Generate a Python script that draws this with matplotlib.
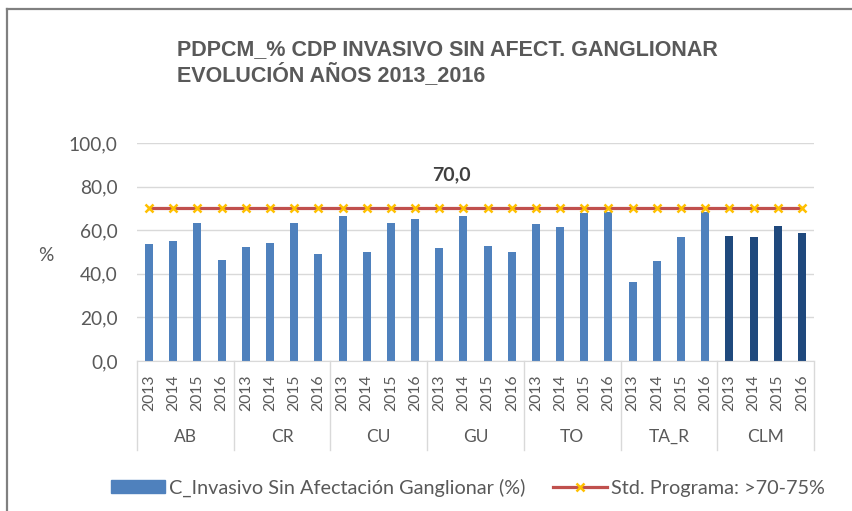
import matplotlib
matplotlib.use("Agg")
import matplotlib.pyplot as plt
from matplotlib.lines import Line2D
import numpy as np

# values
groups = ['AB', 'CR', 'CU', 'GU', 'TO', 'TA_R', 'CLM']
years = ['2013', '2014', '2015', '2016']
values = {
    'AB':   [53.5, 54.9, 63.2, 46.5],
    'CR':   [52.2, 54.3, 63.2, 49.0],
    'CU':   [66.5, 49.9, 63.2, 65.3],
    'GU':   [51.7, 66.5, 52.6, 49.9],
    'TO':   [63.0, 61.5, 67.9, 68.3],
    'TA_R': [36.2, 46.1, 56.8, 68.3],
    'CLM':  [57.2, 56.8, 61.8, 58.6],
}
std_value = 70.0

title = "PDPCM_% CDP INVASIVO SIN AFECT. GANGLIONAR\nEVOLUCIÓN AÑOS 2013_2016"
bar_label = "C_Invasivo Sin Afectación Ganglionar (%)"
std_label = "Std. Programa: >70-75%"

grey_txt = '#595959'
grid_col = '#D9D9D9'

bar_vals = [v for g in groups for v in values[g]]
bar_cols = ['#1F497D' if g == 'CLM' else '#4F81BD' for g in groups for _ in years]
x = np.arange(len(bar_vals))
n_y = len(years)

fig = plt.figure(figsize=(8.53, 5.11), dpi=100)
ax = fig.add_axes([137 / 853, 1 - 361 / 511, 677 / 853, 218 / 511])

bars = ax.bar(x, bar_vals, width=0.33, color=bar_cols, zorder=2, label=bar_label)
line, = ax.plot(x, [std_value] * len(x), color='#C0504D', lw=2.3, marker='x',
                markersize=6, markeredgewidth=1.8, markeredgecolor='#FFC000',
                zorder=3, label=std_label)

ax.text(12.5, 85.3, f"{std_value:.1f}".replace('.', ','), ha='center', va='center',
        fontsize=14, fontweight='bold', family='Lato', color='#404040')

ax.set_xlim(-0.5, len(x) - 0.5)
ax.set_ylim(0, 100)
ax.set_yticks(np.arange(0, 101, 20))
ax.set_yticklabels([f"{t:.1f}".replace('.', ',') for t in np.arange(0, 101, 20)],
                   family='Lato', fontsize=13.8, color=grey_txt)
ax.yaxis.grid(True, color=grid_col, lw=1)
ax.set_axisbelow(True)
for s in ['top', 'right', 'left']:
    ax.spines[s].set_visible(False)
ax.spines['bottom'].set_color(grid_col)
ax.tick_params(axis='y', length=0, pad=14)

ax.set_xticks(x)
ax.set_xticklabels(years * len(groups), rotation=90, family='Lato', fontsize=11.3,
                   color=grey_txt)
ax.tick_params(axis='x', length=0, pad=10)

trans = ax.get_xaxis_transform()
for i, g in enumerate(groups):
    ax.text(i * n_y + (n_y - 1) / 2, -0.349, g, transform=trans, ha='center',
            va='center', family='Lato', fontsize=12.5, color=grey_txt)
for i in range(len(groups) + 1):
    ax.plot([i * n_y - 0.5] * 2, [0, -0.408], transform=trans, color=grid_col,
            lw=1, clip_on=False)

ax.text(-0.134, 0.486, '%', transform=ax.transAxes, ha='center', va='center',
        family='Lato', fontsize=13.8, color=grey_txt)

fig.text(177 / 853, 1 - 39 / 511, title, ha='left', va='top', family='Liberation Sans',
         fontsize=15.5, fontweight='bold', color=grey_txt, linespacing=1.15)

leg = fig.legend(handles=[bars.patches[0], line], labels=[bar_label, std_label],
                 loc='center', bbox_to_anchor=(468 / 853, 1 - 488 / 511), ncol=2,
                 frameon=False, numpoints=1, handlelength=2.7, handleheight=0.62,
                 handletextpad=0.2, columnspacing=1.4,
                 prop={'family': 'Lato', 'size': 14.3})
for t in leg.get_texts():
    t.set_color(grey_txt)
leg.legend_handles[0].set_color('#4F81BD')

# outer chart border (cropped on the right and bottom)
fig.add_artist(Line2D([7 / 853, 7 / 853], [0, 1 - 9 / 511], color='#808080', lw=1.6))
fig.add_artist(Line2D([7 / 853, 1], [1 - 9 / 511, 1 - 9 / 511], color='#808080', lw=1.6))

fig.savefig('out.png', dpi=100)
